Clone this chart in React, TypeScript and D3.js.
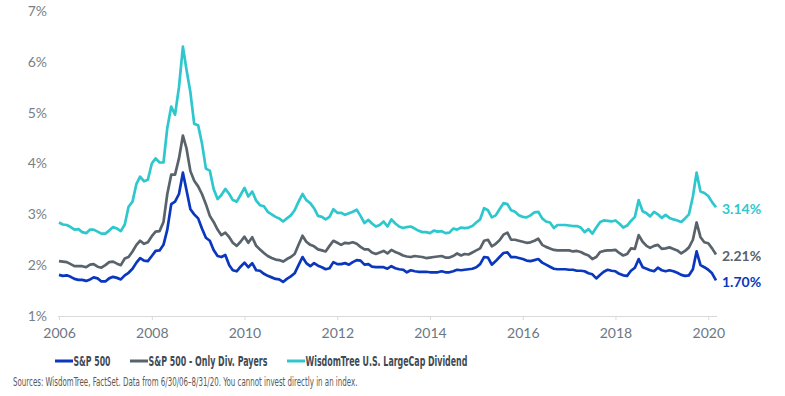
import { useEffect, useRef } from 'react'
import * as d3 from 'd3'

// monthly dividend yields (%), Jun 2006 .. Aug 2020
const months = d3.timeMonth.range(new Date(2006, 5, 1), new Date(2020, 8, 1))

const wisdomTree = [
  2.84, 2.80, 2.79, 2.75, 2.70, 2.71, 2.65, 2.63, 2.70, 2.70,
  2.66, 2.62, 2.62, 2.68, 2.75, 2.72, 2.67, 2.80, 3.15, 3.25,
  3.60, 3.74, 3.65, 3.68, 4.00, 4.10, 4.02, 4.02, 4.70, 5.12,
  4.96, 5.50, 6.30, 5.85, 5.40, 4.78, 4.75, 4.40, 3.90, 3.86,
  3.50, 3.30, 3.38, 3.50, 3.40, 3.28, 3.25, 3.38, 3.52, 3.35,
  3.45, 3.27, 3.18, 3.16, 3.05, 3.00, 2.95, 2.92, 2.86, 2.92,
  2.98, 3.08, 3.25, 3.40, 3.28, 3.22, 3.12, 2.97, 2.95, 2.90,
  2.95, 3.10, 3.03, 3.03, 2.99, 3.02, 3.05, 3.09, 2.97, 2.83,
  2.89, 2.82, 2.76, 2.79, 2.86, 2.76, 2.90, 2.82, 2.76, 2.73,
  2.75, 2.76, 2.72, 2.68, 2.65, 2.65, 2.63, 2.68, 2.66, 2.67,
  2.63, 2.64, 2.72, 2.70, 2.74, 2.73, 2.74, 2.77, 2.84, 2.90,
  3.12, 3.08, 2.94, 2.98, 3.10, 3.22, 3.20, 3.08, 3.05, 2.98,
  2.95, 2.94, 2.98, 3.04, 3.05, 2.92, 2.86, 2.84, 2.73, 2.79,
  2.79, 2.79, 2.78, 2.77, 2.77, 2.74, 2.65, 2.71, 2.62, 2.74,
  2.85, 2.88, 2.87, 2.86, 2.88, 2.82, 2.74, 2.78, 2.87, 2.95,
  3.28, 3.06, 3.02, 2.96, 3.05, 3.00, 2.93, 2.99, 2.93, 2.90,
  2.88, 2.85, 2.92, 3.00, 3.35, 3.82, 3.45, 3.42, 3.36, 3.24, 3.14
]

const divPayers = [
  2.08, 2.07, 2.06, 2.02, 1.98, 1.98, 1.98, 1.96, 2.01, 2.02,
  1.97, 1.95, 2.00, 2.06, 2.07, 2.03, 2.00, 2.13, 2.16, 2.27,
  2.40, 2.48, 2.42, 2.45, 2.57, 2.66, 2.67, 2.85, 3.40, 3.78,
  3.78, 4.10, 4.55, 4.30, 3.85, 3.66, 3.55, 3.40, 3.20, 2.97,
  2.85, 2.70, 2.59, 2.64, 2.55, 2.44, 2.38, 2.46, 2.56, 2.44,
  2.55, 2.38, 2.31, 2.24, 2.18, 2.14, 2.11, 2.10, 2.07, 2.12,
  2.16, 2.22, 2.40, 2.58, 2.46, 2.40, 2.37, 2.31, 2.29, 2.27,
  2.38, 2.48, 2.44, 2.40, 2.44, 2.43, 2.45, 2.42, 2.36, 2.31,
  2.31, 2.25, 2.22, 2.25, 2.28, 2.23, 2.30, 2.26, 2.23, 2.19,
  2.17, 2.16, 2.18, 2.17, 2.16, 2.14, 2.15, 2.16, 2.17, 2.18,
  2.15, 2.15, 2.18, 2.23, 2.19, 2.22, 2.21, 2.25, 2.29, 2.33,
  2.48, 2.50, 2.37, 2.42, 2.49, 2.60, 2.64, 2.50, 2.50, 2.48,
  2.46, 2.44, 2.45, 2.48, 2.52, 2.40, 2.36, 2.33, 2.30, 2.29,
  2.29, 2.29, 2.29, 2.27, 2.28, 2.26, 2.22, 2.19, 2.12, 2.16,
  2.26, 2.28, 2.29, 2.29, 2.30, 2.24, 2.19, 2.22, 2.33, 2.32,
  2.59, 2.46, 2.38, 2.34, 2.38, 2.40, 2.32, 2.33, 2.35, 2.32,
  2.29, 2.23, 2.28, 2.35, 2.50, 2.84, 2.55, 2.45, 2.43, 2.33, 2.21
]

const sp500 = [
  1.81, 1.79, 1.80, 1.77, 1.73, 1.71, 1.71, 1.69, 1.72, 1.76,
  1.74, 1.68, 1.68, 1.74, 1.77, 1.75, 1.72, 1.80, 1.85, 1.93,
  2.05, 2.14, 2.09, 2.08, 2.18, 2.28, 2.29, 2.40, 2.70, 3.20,
  3.25, 3.40, 3.82, 3.48, 3.10, 3.00, 2.92, 2.72, 2.54, 2.48,
  2.30, 2.18, 2.16, 2.20, 2.00, 1.90, 1.88, 1.97, 2.05, 1.96,
  2.04, 1.90, 1.89, 1.83, 1.79, 1.76, 1.73, 1.72, 1.67, 1.73,
  1.78, 1.84, 2.00, 2.16, 2.04, 1.98, 2.04, 1.99, 1.96, 1.92,
  1.94, 2.06, 2.02, 2.02, 2.04, 2.01, 2.06, 2.10, 2.09, 2.01,
  2.02, 1.97, 1.96, 1.96, 1.96, 1.93, 1.98, 1.94, 1.92, 1.91,
  1.86, 1.90, 1.88, 1.87, 1.87, 1.87, 1.86, 1.86, 1.86, 1.88,
  1.86, 1.86, 1.88, 1.91, 1.90, 1.91, 1.92, 1.93, 1.96, 2.02,
  2.16, 2.15, 2.01, 2.08, 2.16, 2.24, 2.25, 2.16, 2.16, 2.14,
  2.12, 2.09, 2.08, 2.10, 2.12, 2.05, 2.01, 1.97, 1.93, 1.92,
  1.92, 1.92, 1.91, 1.91, 1.89, 1.89, 1.88, 1.84, 1.82, 1.74,
  1.81, 1.87, 1.91, 1.89, 1.88, 1.83, 1.80, 1.79, 1.89, 1.95,
  2.12, 1.96, 1.93, 1.90, 1.88, 1.95, 1.90, 1.88, 1.90, 1.88,
  1.85, 1.81, 1.79, 1.80, 1.92, 2.27, 2.00, 1.96, 1.91, 1.84, 1.70
]

const yTicks = [1, 2, 3, 4, 5, 6, 7]
// x labels sit every 24 months from the first data point
const xTickIndex = [0, 24, 48, 72, 96, 120, 144, 168]

const series = [
  { name: 'S&P 500', values: sp500, color: '#0a37bd', labelW: 37 },
  { name: 'S&P 500 - Only Div. Payers', values: divPayers, color: '#59636c', labelW: 119 },
  { name: 'WisdomTree U.S. LargeCap Dividend', values: wisdomTree, color: '#2ec7ce', labelW: 162 }
]

const source = 'Sources: WisdomTree, FactSet. Data from 6/30/06\u20138/31/20. You cannot invest directly in an index.'

const narrow = '"Liberation Sans Narrow", "DejaVu Sans Condensed", Lato, sans-serif'

// squeeze a text horizontally so it spans exactly w pixels from x
const fitWidth = (sel, x, w) => {
  const natural = sel.node().getComputedTextLength()
  const k = natural > 0 ? w / natural : 1
  sel.attr('x', 0).attr('transform', `translate(${x},0) scale(${k},1)`)
}

const Chart = () => {
  const ref = useRef(null)

  useEffect(() => {
    const width = 785
    const height = 396
    const root = d3.select(ref.current)
    root.selectAll('*').remove()

    const svg = root.append('svg')
      .attr('width', width)
      .attr('height', height)
      .style('position', 'absolute')
      .style('left', 0)
      .style('top', 0)
      .style('background', '#fff')
      .style('font-family', 'Lato, "Open Sans", sans-serif')

    const x = d3.scaleTime()
      .domain([months[0], months[months.length - 1]])
      .range([59, 716])
    const y = d3.scaleLinear()
      .domain([1, 7])
      .range([316, 11])

    // y axis labels only
    svg.append('g')
      .attr('transform', 'translate(47,0)')
      .call(d3.axisLeft(y).tickValues(yTicks).tickSize(0).tickPadding(0).tickFormat(d => d + '%'))
      .call(g => g.select('.domain').remove())
      .call(g => g.selectAll('text')
        .attr('fill', '#7a7f86')
        .style('font-size', '14px')
        .style('font-family', 'Lato, sans-serif'))

    // x axis
    svg.append('g')
      .attr('transform', 'translate(0,316)')
      .call(d3.axisBottom(x)
        .tickValues(xTickIndex.map(i => months[i]))
        .tickSize(4)
        .tickSizeOuter(0)
        .tickPadding(8)
        .tickFormat(d3.timeFormat('%Y')))
      .call(g => g.select('.domain').attr('stroke', '#d9d9d9').attr('d', 'M58,0.5H717'))
      .call(g => g.selectAll('.tick line').attr('stroke', '#d9d9d9'))
      .call(g => g.selectAll('text')
        .attr('fill', '#6b7785')
        .style('font-size', '14px')
        .style('font-family', 'Lato, sans-serif'))

    const line = d3.line()
      .x((d, i) => x(months[i]))
      .y(d => y(d))

    // draw teal first so blue lies on top
    series.slice().reverse().forEach(s => {
      svg.append('path')
        .datum(s.values)
        .attr('fill', 'none')
        .attr('stroke', s.color)
        .attr('stroke-width', 2.7)
        .attr('stroke-linejoin', 'round')
        .attr('d', line)
    })

    // end labels
    series.forEach(s => {
      const last = s.values[s.values.length - 1]
      svg.append('text')
        .attr('x', 722)
        .attr('y', y(last) + 1.5)
        .attr('dy', '0.35em')
        .attr('fill', s.color)
        .style('font-size', '14px')
        .style('font-weight', 700)
        .text(last.toFixed(2) + '%')
    })

    // legend
    const legend = svg.append('g').attr('transform', 'translate(0,361)')
    const legendX = [55, 130, 287]
    series.forEach((s, i) => {
      legend.append('line')
        .attr('x1', legendX[i]).attr('x2', legendX[i] + 18)
        .attr('y1', 0).attr('y2', 0)
        .attr('stroke', s.color)
        .attr('stroke-width', 3)
      const t = legend.append('text')
        .attr('y', 0)
        .attr('dy', '0.36em')
        .attr('fill', '#404a54')
        .style('font-size', '14.5px')
        .style('font-weight', 700)
        .style('font-family', narrow)
        .text(s.name)
      fitWidth(t, legendX[i] + 18.5, s.labelW)
    })

    const note = svg.append('g').attr('transform', 'translate(0,382)')
    const src = note.append('text')
      .attr('y', 0)
      .attr('dy', '0.35em')
      .attr('fill', '#595959')
      .style('font-size', '12px')
      .style('font-family', narrow)
      .text(source)
    fitWidth(src, 13, 345)
  }, [])

  return <div ref={ref}></div>
}

export default function App() {
  return <Chart />
}
